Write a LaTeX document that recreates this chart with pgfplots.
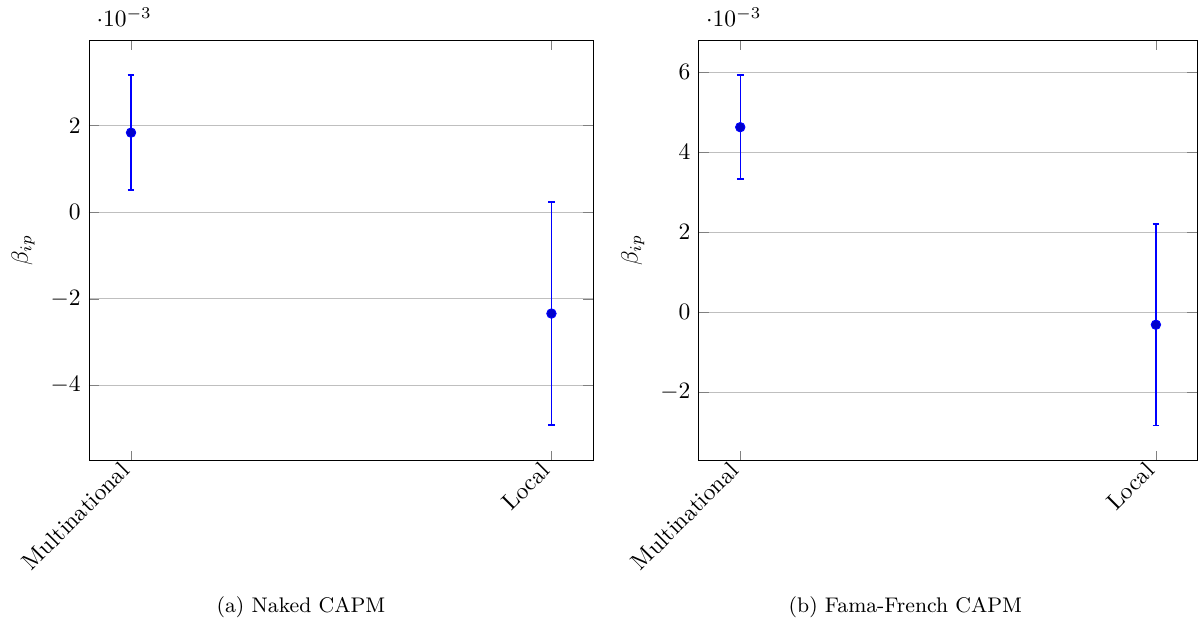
\documentclass[border=0pt]{standalone}
\usepackage{pgfplots}
\pgfplotsset{compat=1.18}
\pgfplotsset{
  leftax/.style={at={(37.87pt,67.36pt)}, anchor=south west,
    scale only axis, width=214.68pt, height=179.02pt,
    xmin=-0.1, xmax=1.1, ymin=-0.00574, ymax=0.00398},
  rightax/.style={at={(297.32pt,67.36pt)}, anchor=south west,
    scale only axis, width=212.25pt, height=179.02pt,
    xmin=-0.1, xmax=1.1, ymin=-0.00371, ymax=0.00681},
  barline/.style={draw=blue, mark=none, line width=0.65pt, unbounded coords=jump},
  dots/.style={only marks, mark=*, mark options={fill=blue!80!black, draw=blue}},
}
\begin{document}
\begin{tikzpicture}[x=1pt,y=1pt]
\useasboundingbox (0,0) rectangle (509.79,263.40);
\begin{axis}[leftax,
  xtick={0,1}, xticklabels={Multinational,Local},
  x tick label style={rotate=45,anchor=east},
  ytick={-0.004,-0.002,0,0.002},
  ymajorgrids, ylabel={$\beta_{ip}$},
]
% error bars: low to high, with caps
\addplot[barline] coordinates {
 (0,0.00051) (0,0.00317) (nan,nan)
 (-0.008,0.00051) (0.008,0.00051) (nan,nan)
 (-0.008,0.00317) (0.008,0.00317) (nan,nan)
 (1,-0.00492) (1,0.00024) (nan,nan)
 (0.992,-0.00492) (1.008,-0.00492) (nan,nan)
 (0.992,0.00024) (1.008,0.00024)
};
\addplot[dots] coordinates {(0,0.00184) (1,-0.00234)};
\end{axis}
\begin{axis}[rightax,
  xtick={0,1}, xticklabels={Multinational,Local},
  x tick label style={rotate=45,anchor=east},
  ytick={-0.002,0,0.002,0.004,0.006},
  ymajorgrids, ylabel={$\beta_{ip}$},
]
\addplot[barline] coordinates {
 (0,0.00333) (0,0.00593) (nan,nan)
 (-0.008,0.00333) (0.008,0.00333) (nan,nan)
 (-0.008,0.00593) (0.008,0.00593) (nan,nan)
 (1,-0.00283) (1,0.00221) (nan,nan)
 (0.992,-0.00283) (1.008,-0.00283) (nan,nan)
 (0.992,0.00221) (1.008,0.00221)
};
\addplot[dots] coordinates {(0,0.00463) (1,-0.00031)};
\end{axis}
\node[font=\small, anchor=base] at (128.09,2.55) {(a) Naked CAPM};
\node[font=\small, anchor=base] at (385.3,2.55) {(b) Fama-French CAPM};
\end{tikzpicture}
\end{document}
